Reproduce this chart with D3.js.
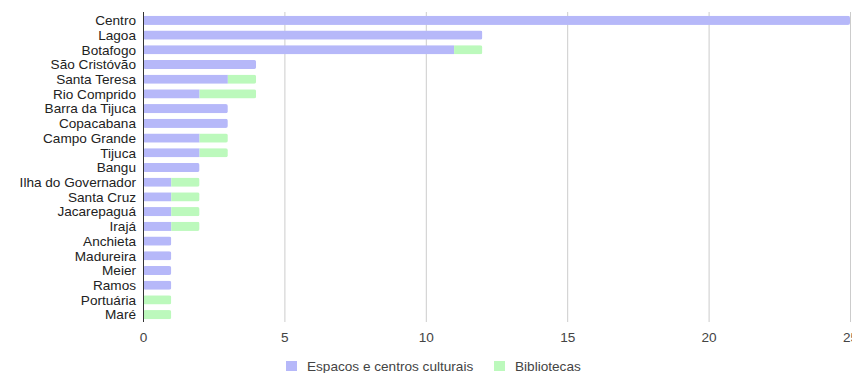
<!DOCTYPE html>
<html>
<head>
<meta charset="utf-8">
<script src="https://cdn.jsdelivr.net/npm/d3@7"></script>
<style>
  html, body { margin: 0; padding: 0; background: #fff; overflow: hidden; }
  text { font-family: "Liberation Sans", Arial, sans-serif; }
</style>
</head>
<body>
<svg id="chart" width="852" height="373"></svg>
<script>
const categories = ["Centro", "Lagoa", "Botafogo", "São Cristóvão", "Santa Teresa", "Rio Comprido",
  "Barra da Tijuca", "Copacabana", "Campo Grande", "Tijuca", "Bangu", "Ilha do Governador",
  "Santa Cruz", "Jacarepaguá", "Irajá", "Anchieta", "Madureira", "Meier", "Ramos", "Portuária", "Maré"];
const espacos = [25, 12, 11, 4, 3, 2, 3, 3, 2, 2, 2, 1, 1, 1, 1, 1, 1, 1, 1, 0, 0];
const bibliotecas = [0, 0, 1, 0, 1, 2, 0, 0, 1, 1, 0, 1, 1, 1, 1, 0, 0, 0, 0, 1, 1];
const seriesNames = ["Espacos e centros culturais", "Bibliotecas"];
const xTicks = [0, 5, 10, 15, 20, 25];

const colors = ["#b6b8f9", "#bcf9bc"];
const svg = d3.select("#chart");
const margin = { left: 143, top: 13 };

const x = d3.scaleLinear().domain([0, 25]).range([margin.left, 850]);
const y = d3.scaleBand().domain(categories).range([margin.top, 322]).paddingInner(0.38).paddingOuter(0.19);

// gridlines
svg.append("g").selectAll("line").data(xTicks.filter(t => t > 0)).join("line")
  .attr("x1", d => x(d) + 0.5).attr("x2", d => x(d) + 0.5)
  .attr("y1", 12).attr("y2", 322)
  .attr("stroke", "#cccccc").attr("stroke-width", 1);

// stacked bars, clipped to a rounded outline per row
const rows = categories.map((c, i) => ({ c, a: espacos[i], b: bibliotecas[i] }));
const g = svg.append("g");
rows.forEach((r, i) => {
  const total = r.a + r.b;
  if (total === 0) return;
  const clipId = "clip" + i;
  g.append("clipPath").attr("id", clipId).append("rect")
    .attr("x", x(0)).attr("y", y(r.c))
    .attr("width", x(total) - x(0)).attr("height", y.bandwidth())
    .attr("rx", 2).attr("ry", 2);
  const grp = g.append("g").attr("clip-path", `url(#${clipId})`);
  if (r.a > 0) grp.append("rect")
    .attr("x", x(0)).attr("y", y(r.c))
    .attr("width", x(r.a) - x(0)).attr("height", y.bandwidth())
    .attr("fill", colors[0]);
  if (r.b > 0) grp.append("rect")
    .attr("x", x(r.a)).attr("y", y(r.c))
    .attr("width", x(r.a + r.b) - x(r.a)).attr("height", y.bandwidth())
    .attr("fill", colors[1]);
});

// baseline axis
svg.append("line").attr("x1", x(0) + 0.5).attr("x2", x(0) + 0.5)
  .attr("y1", 12).attr("y2", 322).attr("stroke", "#333").attr("stroke-width", 1);

// category labels
svg.append("g").selectAll("text").data(categories).join("text")
  .attr("x", 136).attr("y", d => y(d) + y.bandwidth() / 2)
  .attr("dy", "0.35em").attr("text-anchor", "end")
  .attr("font-size", 13.6).attr("fill", "#222")
  .text(d => d);

// value axis labels
const xAxis = d3.axisBottom(x).tickValues(xTicks).tickSize(0).tickPadding(0);
const ax = svg.append("g").attr("transform", "translate(0,332)").call(xAxis);
ax.select(".domain").remove();
ax.selectAll("text").attr("font-size", 13.6).attr("fill", "#444")
  .attr("font-family", "Liberation Sans, Arial, sans-serif");

// legend
const legend = svg.append("g");
const legendX = [286, 494];
seriesNames.forEach((n, i) => {
  legend.append("rect").attr("x", legendX[i]).attr("y", 361).attr("width", 11).attr("height", 10)
    .attr("fill", colors[i]);
  legend.append("text").attr("x", legendX[i] + 21).attr("y", 366).attr("dy", "0.35em")
    .attr("font-size", 13.6).attr("fill", "#444").text(n);
});
</script>
</body>
</html>
